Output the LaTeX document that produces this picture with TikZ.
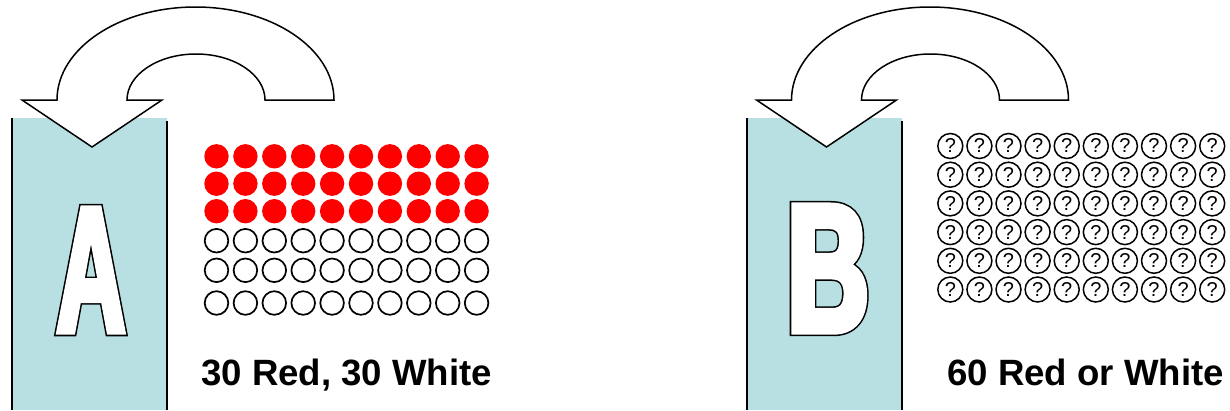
\documentclass[tikz,border=0pt]{standalone}
\usepackage{fontspec}
\setmainfont{Liberation Sans}
\newfontfamily\lettAout{Liberation Sans Bold}[FakeStretch=0.53,FakeBold=4.7]
\newfontfamily\lettAin{Liberation Sans Bold}[FakeStretch=0.53,FakeBold=3.0]
\newfontfamily\lettBout{Liberation Sans Bold}[FakeStretch=0.62,FakeBold=5.7]
\newfontfamily\lettBin{Liberation Sans Bold}[FakeStretch=0.62,FakeBold=4.0]
\definecolor{boxblue}{RGB}{184,223,226}
\definecolor{dotred}{RGB}{255,0,0}
\tikzset{
  jar/.style={fill=boxblue, draw=none},
  jarside/.style={line width=1.7pt, draw=black},
  turnarrow/.style={fill=white, draw=black, line width=1.5pt, line join=miter},
  reddot/.style={fill=dotred, draw=none},
  whitedot/.style={fill=white, draw=black, line width=1.7pt},
  qdot/.style={circle, draw=black, line width=1.5pt, minimum size=25pt, inner sep=0pt, font=\fontsize{20}{20}\selectfont},
  caption/.style={anchor=base west, inner sep=0pt, font=\fontsize{36.6}{40}\selectfont\bfseries},
  bigletter/.style={anchor=base, inner sep=0pt},
  letterscope/.style={line join=miter, miter limit=1.6}
}
\begin{document}
\begin{tikzpicture}[x=1pt, y=-1pt]
\useasboundingbox (0,0) rectangle (1230,410);
% ---------- jar A ----------
\fill[jar] (12,118) rectangle (167,410);
\draw[jarside] (12,118) -- (12,410);
\draw[jarside] (167,121) -- (167,410);
\begin{scope}[letterscope]
\node[bigletter] (letterA) at (91,332)
  {\fontsize{180}{180}\selectfont\rlap{\lettAout\color{black}A}\lettAin\color{white}A};
\end{scope}
\draw[turnarrow] (334,100) arc[start angle=0, end angle=-180, x radius=138.5, y radius=93]
  -- (22,100) -- (92,147) -- (162,100) -- (127,100)
  arc[start angle=180, end angle=360, x radius=69, y radius=46] -- cycle;
% balls of A
\foreach \r/\y in {0/156.3,1/183.7,2/211.2}{
  \foreach \i in {0,...,9}{
    \fill[reddot] ({216.5+28.9*\i},\y) circle[radius=12.2];
  }
}
\foreach \r/\y in {0/240.7,1/270.3,2/303}{
  \foreach \i in {0,...,9}{
    \draw[whitedot] ({216.5+28.9*\i},\y) circle[radius=11.8];
  }
}
\node[caption] (captionA) at (201,385) {30 Red, 30 White};
% ---------- jar B ----------
\fill[jar] (746.7,118) rectangle (901.7,410);
\draw[jarside] (746.7,118) -- (746.7,410);
\draw[jarside] (901.7,121) -- (901.7,410);
\begin{scope}[letterscope]
\node[bigletter] (letterB) at (828,331)
  {\fontsize{181.5}{181.5}\selectfont\rlap{\lettBout\color{black}B}\lettBin\color{white}B};
\end{scope}
\draw[turnarrow] (1068.5,100) arc[start angle=0, end angle=-180, x radius=138.5, y radius=93]
  -- (756.5,100) -- (826.5,147) -- (896.5,100) -- (861.5,100)
  arc[start angle=180, end angle=360, x radius=69, y radius=46] -- cycle;
% balls of B
\foreach \j in {0,...,5}{
  \foreach \i in {0,...,9}{
    \node[qdot] (q-\j-\i) at ({950.3+29.1*\i},{146+28.7*\j}) {?};
  }
}
\node[caption] (captionB) at (947,385) {60 Red or White};
\end{tikzpicture}
\end{document}
